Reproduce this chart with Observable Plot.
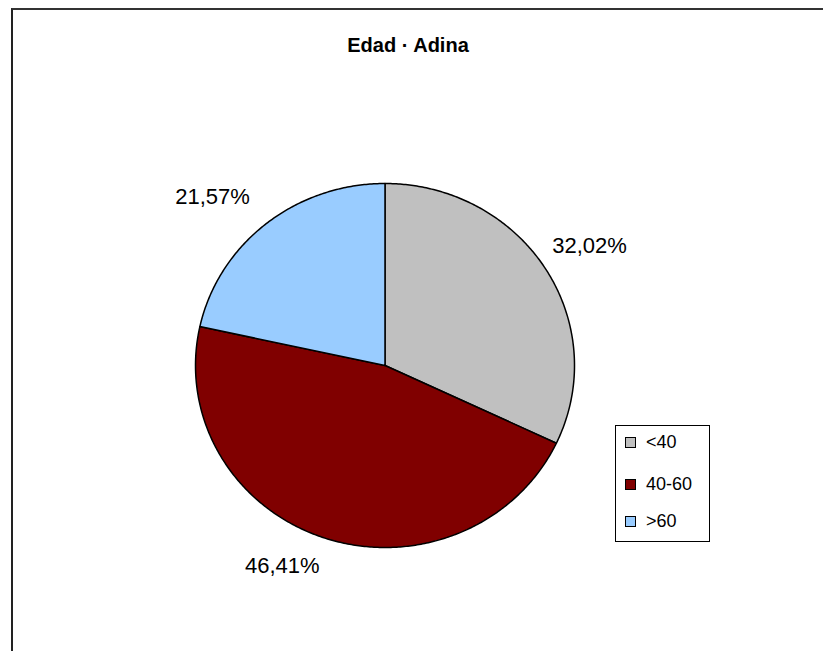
<!DOCTYPE html>
<html>
<head>
<meta charset="utf-8">
<script src="https://cdn.jsdelivr.net/npm/d3@7"></script>
<script src="https://cdn.jsdelivr.net/npm/@observablehq/plot@0.6"></script>
<style>
  html, body { margin: 0; padding: 0; background: #fff; }
  #wrap { position: relative; width: 823px; height: 651px; overflow: hidden; font-family: "Liberation Sans", Arial, sans-serif; }
  #frame { position: absolute; left: 11px; top: 8px; width: 900px; height: 700px; border-left: 2px solid #222; border-top: 2px solid #333; box-sizing: border-box; pointer-events: none; }
  #legend { position: absolute; left: 615px; top: 425px; width: 95px; height: 117px; border: 1px solid #000; box-sizing: border-box; background: #fff; font-size: 18px; line-height: 20px; color: #000; }
  .item { position: absolute; left: 9px; display: flex; align-items: center; height: 20px; }
  .sw { width: 9px; height: 9px; border: 1px solid #000; margin-right: 10px; }
</style>
</head>
<body>
<div id="wrap">
  <div id="chart"></div>
  <div id="frame"></div>
  <div id="legend"></div>
</div>
<script>
const title = "Edad · Adina";
const categories = ["<40", "40-60", ">60"];
const values = [32.02, 46.41, 21.57];
const labels = ["32,02%", "46,41%", "21,57%"];
const colors = ["#C0C0C0", "#800000", "#99CCFF"];

const total = d3.sum(values);
const polys = [];
const labelPts = [];
let acc = 0;
values.forEach((v, i) => {
  const a0 = acc / total * 2 * Math.PI;
  acc += v;
  const a1 = acc / total * 2 * Math.PI;
  const n = Math.max(2, Math.ceil((a1 - a0) / 0.01));
  polys.push({cat: categories[i], x: 0, y: 0, k: 0});
  for (let j = 0; j <= n; j++) {
    const a = a0 + (a1 - a0) * j / n;
    polys.push({cat: categories[i], x: Math.sin(a), y: Math.cos(a), k: j + 1});
  }
  polys.push({cat: categories[i], x: 0, y: 0, k: n + 2});
  const am = (a0 + a1) / 2;
  const lr = 1.07;
  labelPts.push({cat: categories[i], label: labels[i], x: lr * Math.sin(am), y: lr * Math.cos(am)});
});

const cx = 384.5, cy = 365, rx = 189.5, ry = 182;
const quadOffsets = {"1,1": [-4, -8], "1,-1": [-4, 6], "-1,1": [-8, -10], "-1,-1": [0, 8]};
const sideMarks = [];
for (const [xs, ys] of [[1, 1], [1, -1], [-1, 1], [-1, -1]]) {
  const sub = labelPts.filter(d => Math.sign(d.x) === xs && Math.sign(d.y) === ys);
  if (!sub.length) continue;
  const [dx, dy] = quadOffsets[`${xs},${ys}`];
  sideMarks.push(Plot.text(sub, {
    x: "x", y: "y", text: "label", fontSize: 22, fill: "#000",
    textAnchor: xs > 0 ? "start" : "end",
    lineAnchor: ys > 0 ? "bottom" : "top",
    dx, dy
  }));
}

const plot = Plot.plot({
  width: 823,
  height: 651,
  margin: 0,
  style: {background: "#fff", fontFamily: "'Liberation Sans', Arial, sans-serif"},
  x: {domain: [-1, 1], range: [cx - rx, cx + rx], axis: null},
  y: {domain: [-1, 1], range: [cy + ry, cy - ry], axis: null},
  color: {domain: categories, range: colors},
  marks: [
    Plot.line(polys, {x: "x", y: "y", z: "cat", fill: "cat", stroke: "#000", strokeWidth: 1.5, strokeLinejoin: "round", curve: "linear"}),
    ...sideMarks,
    Plot.text([title], {frameAnchor: "top", dy: 37, dx: -4, text: d => d, fontSize: 20, fontWeight: "bold", fill: "#000"})
  ]
});
document.getElementById("chart").appendChild(plot);

const leg = document.getElementById("legend");
const tops = [6, 48, 85];
categories.forEach((c, i) => {
  const it = document.createElement("div");
  it.className = "item";
  it.style.top = tops[i] + "px";
  it.innerHTML = `<div class="sw" style="background:${colors[i]}"></div><span>${c}</span>`;
  leg.appendChild(it);
});
</script>
</body>
</html>
